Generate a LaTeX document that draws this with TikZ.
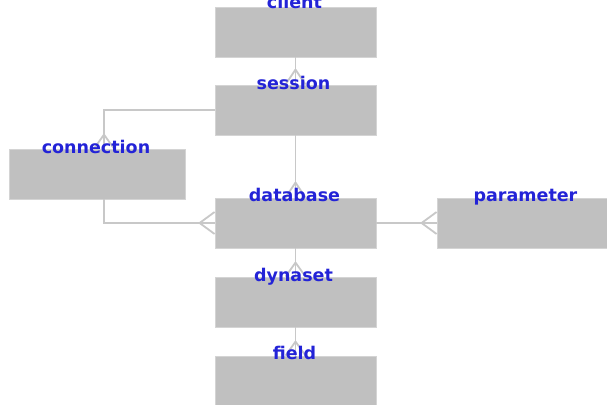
\documentclass[tikz,border=0pt]{standalone}
\usepackage{fontspec}
\newfontfamily\lblfont{DejaVu Sans Bold}
\usetikzlibrary{calc}
\definecolor{boxgray}{RGB}{192,192,192}
\definecolor{edgegray}{RGB}{212,212,212}
\definecolor{linegray}{RGB}{200,200,200}
\definecolor{lblblue}{RGB}{35,35,215}
\begin{document}
\begin{tikzpicture}[x=1pt,y=-1pt,
  entity/.style={fill=boxgray,draw=edgegray,line width=0.8pt,minimum width=161pt,minimum height=50pt,inner sep=0pt},
  lbl/.style={text=lblblue,font=\lblfont\fontsize{17.5}{20}\selectfont,anchor=base,inner sep=0pt},
  conn/.style={draw=linegray,line width=1.8pt}]
\useasboundingbox (0,0) rectangle (607,404);
\fill[white] (0,0) rectangle (607,404);
% boxes
\node[entity] (client) at (295.5,32) {};
\node[entity] (session) at (295.5,110) {};
\node[entity,minimum width=176pt] (connection) at (97,174) {};
\node[entity] (database) at (295.5,223) {};
\node[entity,minimum width=177pt] (parameter) at (525.5,223) {};
\node[entity] (dynaset) at (295.5,302) {};
\node[entity] (field) at (295.5,381) {};
% connectors
\draw[conn] (client.south) -- (session.north);
\draw[conn] (session.south) -- (database.north);
\draw[conn] (database.south) -- (dynaset.north);
\draw[conn] (dynaset.south) -- (field.north);
\draw[conn] (database.east) -- (parameter.west);
\coordinate (cA) at ($(connection.north)+(7,0)$);
\coordinate (cB) at ($(connection.south)+(7,0)$);
\draw[conn] (session.west) -| (cA);
\draw[conn] (cB) |- (database.west);
% crow's feet (vertical, at top of box)
\foreach \n/\l in {session/15,database/15,dynaset/14,field/14}{
  \draw[conn] ($(\n.north)+(0,-\l)$) -- ($(\n.north)+(-10,0)$);
  \draw[conn] ($(\n.north)+(0,-\l)$) -- ($(\n.north)+(10,0)$);
}
\draw[conn] ($(cA)+(0,-14)$) -- ($(cA)+(-10,0)$);
\draw[conn] ($(cA)+(0,-14)$) -- ($(cA)+(10,0)$);
% crow's feet (horizontal, at left of box)
\foreach \n in {database,parameter}{
  \draw[conn] ($(\n.west)+(-15,0)$) -- ($(\n.west)+(0,-11)$);
  \draw[conn] ($(\n.west)+(-15,0)$) -- ($(\n.west)+(0,11)$);
}
% labels
\node[lbl] at ($(client.north)+(-1,2)$) {client};
\node[lbl] at ($(session.north)+(-2,5)$) {session};
\node[lbl] at ($(connection.north)+(-1,5)$) {connection};
\node[lbl] at ($(database.north)+(-1,4)$) {database};
\node[lbl] at ($(parameter.north)+(0,4)$) {parameter};
\node[lbl] at ($(dynaset.north)+(-2,5)$) {dynaset};
\node[lbl] at ($(field.north)+(-1,4)$) {field};
\end{tikzpicture}
\end{document}
